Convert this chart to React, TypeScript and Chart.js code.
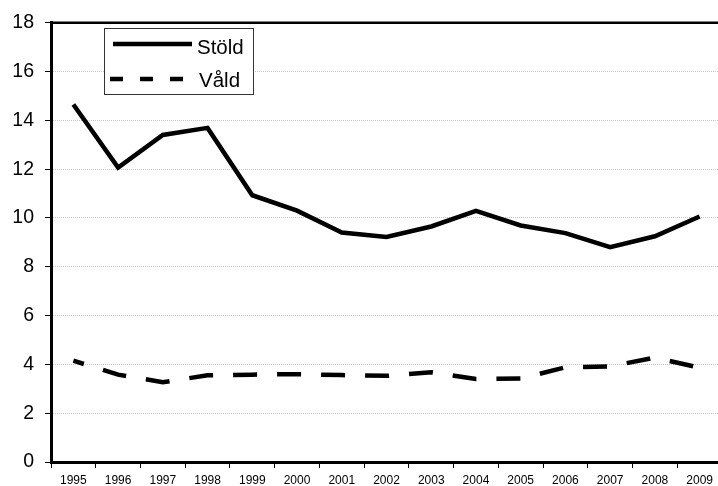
import { useEffect, useRef } from "react";
import { Chart, registerables } from "chart.js";

Chart.register(...registerables);

const years = ["1995", "1996", "1997", "1998", "1999", "2000", "2001", "2002", "2003", "2004", "2005", "2006", "2007", "2008", "2009"];
const stold = [14.65, 12.06, 13.4, 13.69, 10.93, 10.3, 9.4, 9.22, 9.65, 10.29, 9.69, 9.38, 8.8, 9.25, 10.06];
const vald = [4.15, 3.58, 3.27, 3.55, 3.58, 3.6, 3.56, 3.53, 3.68, 3.4, 3.42, 3.88, 3.92, 4.28, 3.86];
const yTicks = [0, 2, 4, 6, 8, 10, 12, 14, 16, 18];
const seriesNames = ["Stöld", "Våld"];

const FONT = "'Liberation Sans', Arial, sans-serif";

const framePlugin = {
  id: "frameAndLegend",
  afterDraw(chart: any) {
    const ctx = chart.ctx as CanvasRenderingContext2D;
    const a = chart.chartArea;
    ctx.save();
    // top border of plot area
    ctx.strokeStyle = "#000";
    ctx.lineWidth = 2.5;
    ctx.beginPath();
    ctx.moveTo(a.left, a.top);
    ctx.lineTo(a.right, a.top);
    ctx.stroke();

    // legend box
    ctx.fillStyle = "#fff";
    ctx.fillRect(104.5, 28.5, 149, 66);
    ctx.strokeStyle = "#333";
    ctx.lineWidth = 1;
    ctx.strokeRect(104.5, 28.5, 149, 66);

    const ds = chart.data.datasets;
    ctx.strokeStyle = "#000";
    ctx.lineWidth = 4.5;
    ctx.lineCap = "butt";
    ctx.beginPath();
    ctx.moveTo(113, 44);
    ctx.lineTo(192, 44);
    ctx.stroke();

    ctx.setLineDash([13, 17]);
    ctx.beginPath();
    ctx.moveTo(110, 79);
    ctx.lineTo(183, 79);
    ctx.stroke();
    ctx.setLineDash([]);

    ctx.fillStyle = "#000";
    ctx.font = `20.5px ${FONT}`;
    ctx.textBaseline = "alphabetic";
    ctx.textAlign = "left";
    ctx.fillText(ds[0].label, 197, 54);
    ctx.fillText(ds[1].label, 199, 87);
    ctx.restore();
  },
};

export default function App() {
  const ref = useRef<HTMLCanvasElement | null>(null);

  useEffect(() => {
    if (!ref.current) return;
    const chart = new Chart(ref.current, {
      type: "line",
      data: {
        labels: years,
        datasets: [
          {
            label: seriesNames[0],
            data: stold,
            borderColor: "#000",
            borderWidth: 4.5,
            pointRadius: 0,
            tension: 0,
            fill: false,
            borderCapStyle: "butt",
            borderJoinStyle: "miter",
          },
          {
            label: seriesNames[1],
            data: vald,
            borderColor: "#000",
            borderWidth: 4.5,
            borderDash: [24, 20],
            borderDashOffset: 13,
            pointRadius: 0,
            tension: 0,
            fill: false,
            borderCapStyle: "butt",
          },
        ],
      },
      options: {
        animation: false,
        responsive: false,
        devicePixelRatio: 1,
        layout: { padding: { top: 20, right: 18, left: 0, bottom: 0 } },
        plugins: {
          legend: { display: false },
          tooltip: { enabled: false },
        },
        scales: {
          x: {
            type: "category",
            offset: true,
            grid: {
              display: true,
              offset: true,
              drawOnChartArea: false,
              drawTicks: true,
              tickLength: 6,
              tickColor: "#000",
              tickWidth: 1,
            },
            border: { display: true, color: "#000", width: 3 },
            ticks: {
              color: "#000",
              font: { family: FONT, size: 12 },
              padding: 5,
              maxRotation: 0,
              autoSkip: false,
            },
            afterFit: (scale: any) => {
              scale.height = 24;
            },
          },
          y: {
            min: 0,
            max: 18,
            afterBuildTicks: (scale: any) => {
              scale.ticks = yTicks.map((v) => ({ value: v }));
            },
            grid: {
              color: (c: any) => (c.tick && (c.tick.value === 18 || c.tick.value === 0) ? "rgba(0,0,0,0)" : "#c4c4c4"),
              lineWidth: 1,
              tickLength: 6,
              tickColor: "#000",
              tickWidth: 1,
            },
            border: { display: true, color: "#000", width: 3, dash: [1, 1] },
            ticks: {
              color: "#000",
              font: { family: FONT, size: 19.5 },
              padding: 11,
            },
            afterFit: (scale: any) => {
              scale.width = 51;
            },
          },
        },
      },
      plugins: [framePlugin],
    });
    return () => chart.destroy();
  }, []);

  return (
    <div style={{ position: "fixed", left: 0, top: 0, width: 718, height: 486, overflow: "hidden", background: "#fff" }}>
      <canvas ref={ref} width={740} height={486} style={{ display: "block", width: 740, height: 486 }} />
    </div>
  );
}
